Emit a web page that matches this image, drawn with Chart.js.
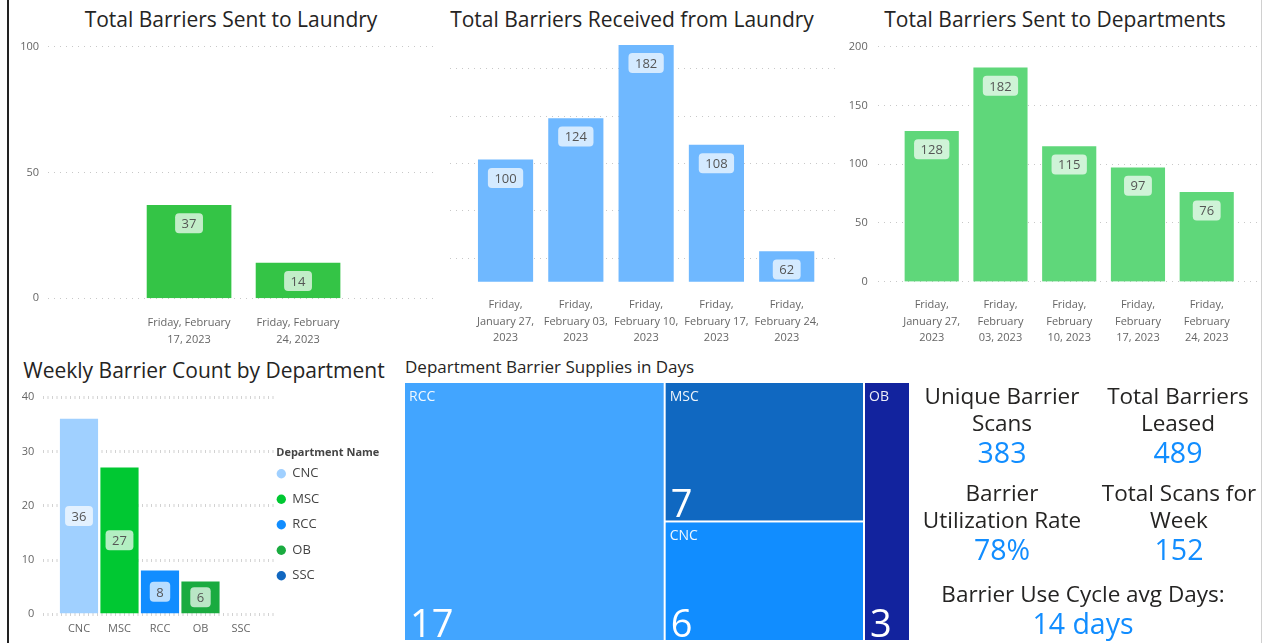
<!DOCTYPE html>
<html lang="en">
<head>
<meta charset="UTF-8">
<title>Barrier Dashboard</title>
<script src="https://cdn.jsdelivr.net/npm/chart.js"></script>
<style>
  body { margin: 0; width: 1263px; height: 643px; background: #fff; position: relative; overflow: hidden;
         font-family: 'Open Sans', sans-serif; color: #252423; }
  canvas { position: absolute; }
  .frame-left { position: absolute; left: 7px; top: 0; width: 2px; height: 643px; background: #222; }
  .frame-right { position: absolute; left: 1261px; top: 0; width: 1px; height: 643px; background: #d0d0d0; }
  .title { position: absolute; font-size: 21px; line-height: 26px; white-space: nowrap; transform: translateX(-50%); }
  .subtitle { position: absolute; font-size: 17px; line-height: 20px; white-space: nowrap; }
  .kpi { position: absolute; width: 220px; text-align: center; transform: translateX(-50%); }
  .kpi .lbl { font-size: 22.5px; line-height: 27px; white-space: nowrap; }
  .kpi .val { font-size: 28.5px; line-height: 33px; color: #118dff; }
</style>
</head>
<body>
  <div class="frame-left"></div>
  <div class="frame-right"></div>

  <div class="title" style="left:231px; top:6px;">Total Barriers Sent to Laundry</div>
  <div class="title" style="left:632px; top:6px;">Total Barriers Received from Laundry</div>
  <div class="title" style="left:1055px; top:6px;">Total Barriers Sent to Departments</div>
  <div class="title" style="left:204px; top:357px;">Weekly Barrier Count by Department</div>
  <div class="subtitle" style="left:405px; top:357px;">Department Barrier Supplies in Days</div>

  <canvas id="sentLaundry" width="428" height="309" style="left:10px; top:36px;"></canvas>
  <canvas id="receivedLaundry" width="390" height="315" style="left:450px; top:30px;"></canvas>
  <canvas id="sentDepts" width="418" height="309" style="left:840px; top:36px;"></canvas>
  <canvas id="weeklyDept" width="385" height="256" style="left:10px; top:387px;"></canvas>
  <canvas id="supplyDays" width="506" height="259" style="left:404px; top:382px;"></canvas>

  <div class="kpi" style="left:1002px; top:382px;">
    <div class="lbl">Unique Barrier<br>Scans</div>
    <div class="val">383</div>
  </div>
  <div class="kpi" style="left:1178px; top:382px;">
    <div class="lbl">Total Barriers<br>Leased</div>
    <div class="val">489</div>
  </div>
  <div class="kpi" style="left:1002px; top:479px;">
    <div class="lbl">Barrier<br>Utilization Rate</div>
    <div class="val">78%</div>
  </div>
  <div class="kpi" style="left:1179px; top:479px;">
    <div class="lbl">Total Scans for<br>Week</div>
    <div class="val">152</div>
  </div>
  <div class="kpi" style="left:1083px; top:580px; width:340px;">
    <div class="lbl">Barrier Use Cycle avg Days:</div>
    <div class="val">14 days</div>
  </div>

<script>
// weekly laundry / department numbers
const sentLaundryDates = ['Friday, February 17, 2023', 'Friday, February 24, 2023'];
const sentLaundryCounts = [37, 14];

const weekDates = ['Friday, January 27, 2023', 'Friday, February 03, 2023', 'Friday, February 10, 2023',
                   'Friday, February 17, 2023', 'Friday, February 24, 2023'];
const receivedCounts = [100, 124, 182, 108, 62];
const sentDeptCounts = [128, 182, 115, 97, 76];

const departments = ['CNC', 'MSC', 'RCC', 'OB', 'SSC'];
const weeklyDeptCounts = [36, 27, 8, 6, null];
const deptColors = ['#a0d0ff', '#00c832', '#118dff', '#1aab40', '#1167c0'];

const supplyDepts = ['RCC', 'MSC', 'CNC', 'OB'];
const supplyDaysValues = [17, 7, 6, 3];
const supplyColors = ['#42a5ff', '#1068c1', '#118dff', '#12239e'];
const supplyColumns = [[0], [1, 2], [3]];   // which cells share a column of the treemap

const FONT = "'Open Sans', sans-serif";
Chart.defaults.font.family = FONT;
Chart.defaults.font.size = 11;
Chart.defaults.color = '#666';
Chart.defaults.animation = false;
Chart.defaults.events = [];
Chart.defaults.plugins.legend.display = false;
Chart.defaults.plugins.tooltip.enabled = false;

function wrap(text, maxChars) {
  const lines = [];
  let line = '';
  text.split(' ').forEach(w => {
    const next = line ? line + ' ' + w : w;
    if (next.length > maxChars && line) { lines.push(line); line = w; }
    else line = next;
  });
  lines.push(line);
  return lines;
}

// value boxes like the power bi data labels
const valueBoxes = {
  id: 'valueBoxes',
  afterDatasetsDraw(chart, args, opts) {
    const ctx = chart.ctx;
    chart.data.datasets.forEach((ds, di) => {
      chart.getDatasetMeta(di).data.forEach((bar, i) => {
        const v = ds.data[i].y;
        if (v == null) return;
        const text = String(v);
        ctx.save();
        ctx.font = '13px ' + FONT;
        const w = ctx.measureText(text).width + 13, h = 20;
        const cy = opts.middle ? (bar.y + bar.base) / 2 : bar.y + 18;
        ctx.fillStyle = 'rgba(255,255,255,0.7)';
        ctx.beginPath();
        ctx.roundRect(bar.x - w / 2, cy - h / 2, w, h, 4);
        ctx.fill();
        ctx.fillStyle = '#555';
        ctx.textAlign = 'center';
        ctx.textBaseline = 'middle';
        ctx.fillText(text, bar.x, cy + 1);
        ctx.restore();
      });
    });
  }
};

function weekChart(id, labels, values, o) {
  return new Chart(document.getElementById(id), {
    type: 'bar',
    data: {
      datasets: [{
        data: values.map((v, i) => ({ x: i + 1, y: v })),
        backgroundColor: o.colors || o.color,
        barThickness: o.barWidth
      }]
    },
    options: {
      responsive: false,
      layout: { autoPadding: false, padding: { top: o.padTop, right: o.padRight || 0, left: 0, bottom: 0 } },
      scales: {
        x: {
          type: 'linear', min: o.xMin, max: o.xMax, offset: false,
          grid: { display: false, offset: false }, border: { display: false },
          afterBuildTicks: s => { s.ticks = labels.map((_, i) => ({ value: i + 1 })); },
          afterFit: s => { s.height = o.xHeight; s.paddingLeft = 0; s.paddingRight = 0; },
          ticks: {
            padding: o.xPad, maxRotation: 0, autoSkip: false,
            font: { size: 11, lineHeight: 1.52 },
            callback: (v) => o.wrapChars ? wrap(labels[v - 1], o.wrapChars) : labels[v - 1]
          }
        },
        y: Object.assign({
          grid: { color: o.gridColor || '#c8c8c8', lineWidth: o.gridWidth || 1, drawTicks: false },
          border: { display: false, dash: o.gridDash || [1, 5] },
          afterFit: s => { s.width = o.yWidth; s.paddingTop = 0; s.paddingBottom = 0; },
          ticks: { padding: o.yPad, display: o.yWidth > 0 }
        }, o.y)
      },
      plugins: Object.assign({ valueBoxes: { middle: !!o.middle } }, o.plugins || {})
    },
    plugins: [valueBoxes].concat(o.extraPlugins || [])
  });
}

weekChart('sentLaundry', sentLaundryDates, sentLaundryCounts, {
  color: '#34c446', barWidth: 84, xMin: -0.294, xMax: 3.284, wrapChars: 16,
  padTop: 10.7, xHeight: 46.7, xPad: 8, yWidth: 38, yPad: 9,
  y: { min: 0, max: 100, ticks: { stepSize: 50, padding: 9 } }
});

// the received chart has no visible axis; its bar heights follow a log scale
const recvMin = 53, recvMax = 182;
weekChart('receivedLaundry', weekDates, receivedCounts, {
  color: '#6fb8ff', barWidth: 54.5, xMin: 0.21, xMax: 5.758, wrapChars: 12,
  padTop: 15, xHeight: 63.3, xPad: 6.8, yWidth: 0, yPad: 0,
  y: {
    type: 'logarithmic', min: recvMin, max: recvMax,
    afterBuildTicks: s => {
      s.ticks = [0.1, 0.3, 0.5, 0.7, 0.9].map(f => ({ value: recvMin * Math.pow(recvMax / recvMin, f) }));
    },
    ticks: { display: false }
  }
});

weekChart('sentDepts', weekDates, sentDeptCounts, {
  color: '#5fd77a', barWidth: 53.5, xMin: 0.223, xMax: 5.746, wrapChars: 11,
  padTop: 10.7, xHeight: 63.3, xPad: 6.8, yWidth: 38.3, yPad: 10.6,
  y: { min: 0, max: 200, ticks: { stepSize: 50, padding: 10.6 } }
});

// power bi puts the legend column right against the plot
const legendNudge = {
  id: 'legendNudge',
  afterLayout(chart) {
    const l = chart.legend;
    l.left = chart.chartArea.right - 10.7;
    l.width = 127;
    l.right = l.left + l.width;
    l.top -= 4;
    l.bottom -= 4;
  }
};

weekChart('weeklyDept', departments, weeklyDeptCounts, {
  colors: deptColors, barWidth: 37.5, xMin: 0.111, xMax: 5.84, middle: true,
  padTop: 10.3, padRight: 60, xHeight: 28.7, xPad: -2, yWidth: 33, yPad: 8.7,
  gridColor: '#d2d2d2', gridWidth: 3, gridDash: [1, 3.5],
  y: { min: 0, max: 40, ticks: { stepSize: 10, padding: 8.7 } },
  plugins: {
    legend: {
      display: true, position: 'right', align: 'center', maxWidth: 60,
      title: { display: true, text: 'Department Name', position: 'center', padding: { top: 10, bottom: -6 },
               color: '#444', font: { size: 11, weight: 'bold' } },
      labels: {
        usePointStyle: true, boxWidth: 9, boxHeight: 6.6, padding: 12.5,
        color: '#605e5c', font: { size: 13 },
        generateLabels: () => departments.map((d, i) => ({
          text: d, fillStyle: deptColors[i], strokeStyle: deptColors[i],
          lineWidth: 0, pointStyle: 'circle', hidden: false, datasetIndex: 0
        }))
      }
    }
  },
  extraPlugins: [legendNudge]
});

// treemap: cells laid out in columns, widths from column totals, heights within a column
const treemapCells = {
  id: 'treemapCells',
  afterDatasetsDraw(chart) {
    const { ctx, scales: { x, y } } = chart;
    let x0 = 0;
    supplyColumns.forEach(col => {
      const colSum = col.reduce((s, i) => s + supplyDaysValues[i], 0);
      let y0 = 0;
      col.forEach(i => {
        const frac = supplyDaysValues[i] / colSum;
        const left = x.getPixelForValue(x0) + 1, right = x.getPixelForValue(x0 + colSum) - 1;
        const top = y.getPixelForValue(y0) + 1, bottom = y.getPixelForValue(y0 + frac) - 1;
        ctx.save();
        ctx.fillStyle = supplyColors[i];
        ctx.fillRect(left, top, right - left, bottom - top);
        ctx.fillStyle = 'rgba(255,255,255,0.92)';
        ctx.textBaseline = 'middle';
        ctx.font = '14px ' + FONT;
        ctx.fillText(supplyDepts[i], left + 4, top + 14);
        ctx.fillStyle = '#fff';
        ctx.textBaseline = 'alphabetic';
        ctx.font = '38px ' + FONT;
        ctx.fillText(String(supplyDaysValues[i]), left + 5, bottom - 3);
        ctx.restore();
        y0 += frac;
      });
      x0 += colSum;
    });
  }
};

new Chart(document.getElementById('supplyDays'), {
  type: 'scatter',
  data: { datasets: [{ data: [] }] },
  options: {
    responsive: false,
    layout: { padding: 0 },
    scales: {
      x: { type: 'linear', display: false, min: 0, max: supplyDaysValues.reduce((a, b) => a + b, 0) },
      y: { type: 'linear', display: false, min: 0, max: 1, reverse: true }
    }
  },
  plugins: [treemapCells]
});
</script>
</body>
</html>
